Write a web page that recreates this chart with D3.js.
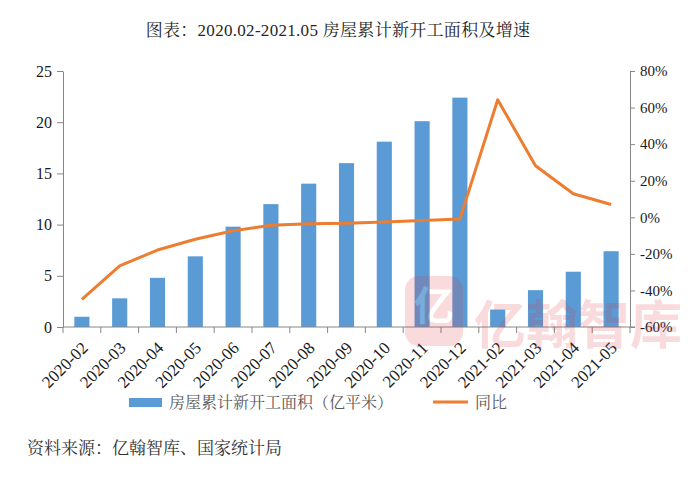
<!DOCTYPE html>
<html>
<head>
<meta charset="utf-8">
<script src="https://cdn.jsdelivr.net/npm/d3@7"></script>
<style>
  html, body { margin: 0; padding: 0; background: #fff; }
  svg { display: block; }
</style>
</head>
<body>
<div id="chart"></div>
<script>
const categories = ["2020-02","2020-03","2020-04","2020-05","2020-06","2020-07","2020-08","2020-09","2020-10","2020-11","2020-12","2021-02","2021-03","2021-04","2021-05"];
const areaValues = [1.0, 2.8, 4.8, 6.9, 9.8, 12.0, 14.0, 16.0, 18.1, 20.1, 22.4, 1.7, 3.6, 5.4, 7.4];
const growthValues = [-44.9, -26.6, -17.9, -12.0, -7.4, -4.4, -3.5, -3.3, -2.6, -1.8, -1.0, 64.3, 28.2, 12.9, 7.0];
const leftTicks = [0, 5, 10, 15, 20, 25];
const rightTicks = [-60, -40, -20, 0, 20, 40, 60, 80];
const titleText = "图表：2020.02-2021.05 房屋累计新开工面积及增速";
const legendBar = "房屋累计新开工面积（亿平米）";
const legendLine = "同比";
const sourceText = "资料来源：亿翰智库、国家统计局";
const watermarkText = "亿翰智库";

const W = 699, H = 495;
const plot = { left: 63, right: 630, top: 71, bottom: 327 };
const barColor = "#5B9BD5", lineColor = "#ED7D31", axisColor = "#868686";
const serif = "'Liberation Serif', 'Times New Roman', serif";
const cjk = "'Liberation Serif', 'Noto Serif CJK SC', serif";

const svg = d3.select("#chart").append("svg").attr("width", W).attr("height", H);

const x = d3.scaleBand().domain(categories).range([plot.left, plot.right]).paddingInner(0.6).paddingOuter(0.3);
const yL = d3.scaleLinear().domain([0, 25]).range([plot.bottom, plot.top]);
const yR = d3.scaleLinear().domain([-60, 80]).range([plot.bottom, plot.top]);

// Title
svg.append("text").attr("x", 338).attr("y", 36).attr("text-anchor", "middle")
  .attr("font-size", 17).attr("letter-spacing", 0.3).attr("fill", "#262626").attr("font-family", cjk).text(titleText);

// Bars
svg.append("g").selectAll("rect").data(categories).join("rect")
  .attr("x", d => x(d)).attr("width", x.bandwidth())
  .attr("y", (d, i) => yL(areaValues[i]))
  .attr("height", (d, i) => yL(0) - yL(areaValues[i]))
  .attr("fill", barColor);

// Left axis
const gL = svg.append("g").attr("transform", `translate(${plot.left},0)`)
  .call(d3.axisLeft(yL).tickValues(leftTicks).tickSize(6).tickSizeOuter(0).tickPadding(5));
gL.selectAll("text").attr("font-size", 16).attr("fill", "#1a1a1a").attr("font-family", serif);

// Right axis
const gR = svg.append("g").attr("transform", `translate(${plot.right},0)`)
  .call(d3.axisRight(yR).tickValues(rightTicks).tickSize(5).tickSizeOuter(0).tickPadding(5).tickFormat(d => d + "%"));
gR.selectAll("text").attr("font-size", 15).attr("fill", "#1a1a1a").attr("font-family", serif);

// X axis
const gX = svg.append("g").attr("transform", `translate(0,${plot.bottom})`);
gX.append("line").attr("x1", plot.left).attr("x2", plot.right + 5).attr("y1", 0).attr("y2", 0);
const step = x.step();
const bounds = categories.map(c => x(c) + x.bandwidth() / 2 - step / 2).concat([x(categories[categories.length - 1]) + x.bandwidth() / 2 + step / 2]);
gX.selectAll("line.tk").data(bounds).join("line").attr("class", "tk")
  .attr("x1", d => d).attr("x2", d => d).attr("y1", 0).attr("y2", 6);
gX.selectAll("text").data(categories).join("text")
  .attr("transform", d => `translate(${x(d) + x.bandwidth() / 2 + 7},${22}) rotate(-45)`)
  .attr("text-anchor", "end").attr("font-size", 17).attr("fill", "#1a1a1a")
  .attr("font-family", serif)
  .text(d => d);

[gL, gR].forEach(g => { g.select(".domain").attr("stroke", axisColor); g.selectAll(".tick line").attr("stroke", axisColor); });
gX.selectAll("line").attr("stroke", axisColor);

// Line
const line = d3.line().x((d, i) => x(categories[i]) + x.bandwidth() / 2).y(d => yR(d));
svg.append("path").datum(growthValues).attr("d", line)
  .attr("fill", "none").attr("stroke", lineColor).attr("stroke-width", 3).attr("stroke-linejoin", "round");

// Watermark
const wm = svg.append("g").attr("opacity", 0.17);
wm.append("rect").attr("x", 405).attr("y", 276).attr("width", 58).attr("height", 70).attr("rx", 14).attr("fill", "#E0303C");
wm.append("text").attr("x", 434).attr("y", 320).attr("text-anchor", "middle").attr("font-size", 40)
  .attr("font-weight", "bold").attr("fill", "#fff").attr("font-family", "Noto Sans CJK SC").text("亿");
wm.append("text").attr("x", 474).attr("y", 344).attr("font-size", 52).attr("font-weight", "bold")
  .attr("fill", "#E0303C").attr("font-family", "Noto Sans CJK SC").text(watermarkText);

// Legend
svg.append("rect").attr("x", 129).attr("y", 398).attr("width", 33).attr("height", 9).attr("fill", barColor);
svg.append("text").attr("x", 169).attr("y", 408).attr("font-size", 16).attr("fill", "#595959").attr("font-family", cjk).text(legendBar);
svg.append("line").attr("x1", 433).attr("x2", 468).attr("y1", 402).attr("y2", 402).attr("stroke", lineColor).attr("stroke-width", 3);
svg.append("text").attr("x", 475).attr("y", 408).attr("font-size", 16).attr("fill", "#595959").attr("font-family", cjk).text(legendLine);

// Source
svg.append("text").attr("x", 27).attr("y", 454).attr("font-size", 17).attr("fill", "#333").attr("font-family", cjk).text(sourceText);
</script>
</body>
</html>
